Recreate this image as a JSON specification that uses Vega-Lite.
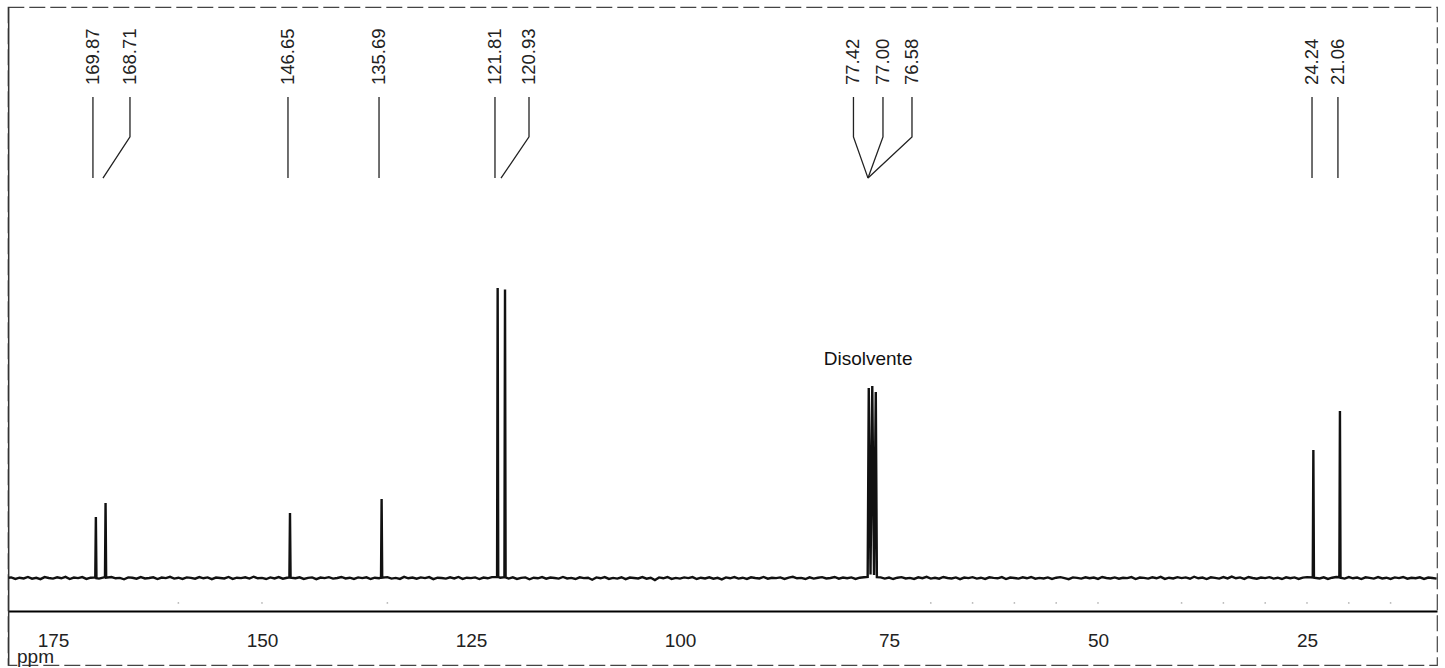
{
  "$schema": "https://vega.github.io/schema/vega-lite/v6.json",
  "width": 1429,
  "height": 658,
  "autosize": {"type": "none"},
  "padding": {"left": 8, "top": 7, "right": 8, "bottom": 3},
  "background": "white",
  "config": {
    "view": {"stroke": "#444", "strokeWidth": 1.2, "strokeDash": [16, 5]},
    "font": "Liberation Sans"
  },
  "datasets": {
    "spec": [
      {"ppm":180.3,"i":0.1},{"ppm":180,"i":0.2},{"ppm":179.5,"i":-0.3},{"ppm":179,"i":0.1},{"ppm":178.5,"i":-0.15},{"ppm":178,"i":0.35},{"ppm":177.5,"i":-0.25},{"ppm":177,"i":0.05},{"ppm":176.5,"i":-0.4},{"ppm":176,"i":0.3},{"ppm":175.5,"i":0},{"ppm":175,"i":-0.2},{"ppm":174.5,"i":0.25},{"ppm":174,"i":-0.1},{"ppm":173.5,"i":0.4},{"ppm":173,"i":-0.35},{"ppm":172.5,"i":0.15},{"ppm":172,"i":-0.05},{"ppm":171.5,"i":0.3},{"ppm":171,"i":-0.3},{"ppm":170.5,"i":0.1},
      {"ppm":169.94,"i":0.2},{"ppm":169.87,"i":21.0},{"ppm":169.8,"i":-0.1},
      {"ppm":169.5,"i":-0.2},
      {"ppm":168.78,"i":0.3},{"ppm":168.71,"i":25.9},{"ppm":168.64,"i":0.1},
      {"ppm":168,"i":0.35},{"ppm":167.5,"i":-0.1},{"ppm":167,"i":0.05},{"ppm":166.5,"i":-0.45},{"ppm":166,"i":0.2},{"ppm":165.5,"i":0.1},{"ppm":165,"i":-0.25},{"ppm":164.5,"i":0.3},{"ppm":164,"i":-0.15},{"ppm":163.5,"i":0},{"ppm":163,"i":0.25},{"ppm":162.5,"i":-0.35},{"ppm":162,"i":0.15},{"ppm":161.5,"i":-0.05},{"ppm":161,"i":0.4},{"ppm":160.5,"i":-0.2},{"ppm":160,"i":0.1},{"ppm":159.5,"i":-0.3},{"ppm":159,"i":0.2},{"ppm":158.5,"i":0.05},{"ppm":158,"i":-0.25},{"ppm":157.5,"i":0.3},{"ppm":157,"i":-0.1},{"ppm":156.5,"i":0.2},{"ppm":156,"i":-0.4},{"ppm":155.5,"i":0.15},{"ppm":155,"i":0},{"ppm":154.5,"i":-0.15},{"ppm":154,"i":0.35},{"ppm":153.5,"i":-0.3},{"ppm":153,"i":0.1},{"ppm":152.5,"i":-0.05},{"ppm":152,"i":0.25},{"ppm":151.5,"i":-0.2},{"ppm":151,"i":0.45},{"ppm":150.5,"i":-0.1},{"ppm":150,"i":0.05},{"ppm":149.5,"i":-0.35},{"ppm":149,"i":0.2},{"ppm":148.5,"i":-0.15},{"ppm":148,"i":0.3},{"ppm":147.5,"i":-0.25},{"ppm":147,"i":0.1},
      {"ppm":146.72,"i":0.2},{"ppm":146.65,"i":22.4},{"ppm":146.58,"i":0.1},
      {"ppm":146,"i":-0.1},{"ppm":145.5,"i":0.25},{"ppm":145,"i":-0.3},{"ppm":144.5,"i":0.05},{"ppm":144,"i":0.2},{"ppm":143.5,"i":-0.4},{"ppm":143,"i":0.15},{"ppm":142.5,"i":-0.05},{"ppm":142,"i":0.3},{"ppm":141.5,"i":-0.2},{"ppm":141,"i":0},{"ppm":140.5,"i":0.35},{"ppm":140,"i":-0.15},{"ppm":139.5,"i":0.1},{"ppm":139,"i":-0.3},{"ppm":138.5,"i":0.2},{"ppm":138,"i":-0.05},{"ppm":137.5,"i":0.25},{"ppm":137,"i":-0.35},{"ppm":136.5,"i":0.1},{"ppm":136,"i":-0.1},
      {"ppm":135.76,"i":0.2},{"ppm":135.69,"i":27.2},{"ppm":135.62,"i":0.1},
      {"ppm":135,"i":0.3},{"ppm":134.5,"i":-0.2},{"ppm":134,"i":0.05},{"ppm":133.5,"i":-0.3},{"ppm":133,"i":0.4},{"ppm":132.5,"i":-0.1},{"ppm":132,"i":0.15},{"ppm":131.5,"i":-0.25},{"ppm":131,"i":0.2},{"ppm":130.5,"i":-0.05},{"ppm":130,"i":0.3},{"ppm":129.5,"i":-0.4},{"ppm":129,"i":0.1},{"ppm":128.5,"i":0},{"ppm":128,"i":-0.2},{"ppm":127.5,"i":0.25},{"ppm":127,"i":-0.15},{"ppm":126.5,"i":0.35},{"ppm":126,"i":-0.3},{"ppm":125.5,"i":0.1},{"ppm":125,"i":-0.05},{"ppm":124.5,"i":0.2},{"ppm":124,"i":-0.35},{"ppm":123.5,"i":0.15},{"ppm":123,"i":-0.1},{"ppm":122.5,"i":0.3},
      {"ppm":121.88,"i":0.3},{"ppm":121.81,"i":100},{"ppm":121.74,"i":0.4},
      {"ppm":121.5,"i":0.1},
      {"ppm":121.0,"i":0.3},{"ppm":120.93,"i":99.5},{"ppm":120.86,"i":0.2},
      {"ppm":120.5,"i":-0.2},{"ppm":120,"i":0.25},{"ppm":119.5,"i":-0.3},{"ppm":119,"i":0.05},{"ppm":118.5,"i":0.2},{"ppm":118,"i":-0.45},{"ppm":117.5,"i":0.1},{"ppm":117,"i":-0.1},{"ppm":116.5,"i":0.3},{"ppm":116,"i":-0.25},{"ppm":115.5,"i":0.15},{"ppm":115,"i":0},{"ppm":114.5,"i":-0.2},{"ppm":114,"i":0.35},{"ppm":113.5,"i":-0.15},{"ppm":113,"i":0.05},{"ppm":112.5,"i":-0.35},{"ppm":112,"i":0.25},{"ppm":111.5,"i":-0.05},{"ppm":111,"i":0.1},{"ppm":110.5,"i":-0.6},{"ppm":110,"i":0.2},{"ppm":109.5,"i":-0.1},{"ppm":109,"i":0.3},{"ppm":108.5,"i":-0.3},{"ppm":108,"i":0.05},{"ppm":107.5,"i":-0.2},{"ppm":107,"i":0.25},{"ppm":106.5,"i":-0.4},{"ppm":106,"i":0.15},{"ppm":105.5,"i":0},{"ppm":105,"i":-0.15},{"ppm":104.5,"i":0.3},{"ppm":104,"i":-0.25},{"ppm":103.5,"i":0.1},{"ppm":103,"i":-0.7},{"ppm":102.5,"i":0.2},{"ppm":102,"i":-0.1},{"ppm":101.5,"i":0.35},{"ppm":101,"i":-0.3},{"ppm":100.5,"i":0.05},{"ppm":100,"i":-0.2},{"ppm":99.5,"i":0.2},{"ppm":99,"i":-0.05},{"ppm":98.5,"i":0.3},{"ppm":98,"i":-0.35},{"ppm":97.5,"i":0.1},{"ppm":97,"i":-0.15},{"ppm":96.5,"i":0.25},{"ppm":96,"i":-0.25},{"ppm":95.5,"i":0.05},{"ppm":95,"i":-0.5},{"ppm":94.5,"i":0.2},{"ppm":94,"i":-0.1},{"ppm":93.5,"i":0.3},{"ppm":93,"i":-0.2},{"ppm":92.5,"i":0.1},{"ppm":92,"i":-0.3},{"ppm":91.5,"i":0.25},{"ppm":91,"i":0},{"ppm":90.5,"i":-0.15},{"ppm":90,"i":0.35},{"ppm":89.5,"i":-0.25},{"ppm":89,"i":0.1},{"ppm":88.5,"i":-0.05},{"ppm":88,"i":0.2},{"ppm":87.5,"i":-0.3},{"ppm":87,"i":0.15},{"ppm":86.5,"i":0.4},{"ppm":86,"i":-0.1},{"ppm":85.5,"i":0.05},{"ppm":85,"i":-0.35},{"ppm":84.5,"i":0.25},{"ppm":84,"i":-0.2},{"ppm":83.5,"i":0.1},{"ppm":83,"i":0.3},{"ppm":82.5,"i":-0.15},{"ppm":82,"i":0},{"ppm":81.5,"i":0.35},{"ppm":81,"i":-0.25},{"ppm":80.5,"i":0.15},{"ppm":80,"i":-0.1},{"ppm":79.5,"i":0.2},{"ppm":79,"i":-0.3},{"ppm":78.5,"i":0.1},{"ppm":78,"i":0.25},
      {"ppm":77.55,"i":0.4},{"ppm":77.42,"i":65.5},{"ppm":77.21,"i":1.2},{"ppm":77.0,"i":66.2},{"ppm":76.79,"i":1.0},{"ppm":76.58,"i":64.1},{"ppm":76.45,"i":0.3},
      {"ppm":76,"i":0.2},{"ppm":75.5,"i":-0.2},{"ppm":75,"i":0.15},{"ppm":74.5,"i":-0.35},{"ppm":74,"i":0.1},{"ppm":73.5,"i":0.3},{"ppm":73,"i":-0.15},{"ppm":72.5,"i":0.05},{"ppm":72,"i":-0.3},{"ppm":71.5,"i":0.25},{"ppm":71,"i":-0.05},{"ppm":70.5,"i":0.4},{"ppm":70,"i":-0.2},{"ppm":69.5,"i":0.1},{"ppm":69,"i":-0.25},{"ppm":68.5,"i":0.35},{"ppm":68,"i":0},{"ppm":67.5,"i":-0.15},{"ppm":67,"i":0.2},{"ppm":66.5,"i":-0.4},{"ppm":66,"i":0.15},{"ppm":65.5,"i":-0.05},{"ppm":65,"i":0.3},{"ppm":64.5,"i":-0.2},{"ppm":64,"i":0.1},{"ppm":63.5,"i":-0.3},{"ppm":63,"i":0.25},{"ppm":62.5,"i":0.05},{"ppm":62,"i":-0.1},{"ppm":61.5,"i":0.3},{"ppm":61,"i":-0.35},{"ppm":60.5,"i":0.15},{"ppm":60,"i":0},{"ppm":59.5,"i":-0.2},{"ppm":59,"i":0.25},{"ppm":58.5,"i":-0.1},{"ppm":58,"i":0.35},{"ppm":57.5,"i":-0.25},{"ppm":57,"i":0.05},{"ppm":56.5,"i":-0.15},{"ppm":56,"i":0.2},{"ppm":55.5,"i":-0.3},{"ppm":55,"i":0.1},{"ppm":54.5,"i":0.3},{"ppm":54,"i":-0.05},{"ppm":53.5,"i":-0.4},{"ppm":53,"i":0.2},{"ppm":52.5,"i":0.05},{"ppm":52,"i":-0.2},{"ppm":51.5,"i":0.25},{"ppm":51,"i":-0.1},{"ppm":50.5,"i":0.15},{"ppm":50,"i":-0.3},{"ppm":49.5,"i":0.35},{"ppm":49,"i":0},{"ppm":48.5,"i":-0.15},{"ppm":48,"i":0.2},{"ppm":47.5,"i":-0.25},{"ppm":47,"i":0.1},{"ppm":46.5,"i":-0.05},{"ppm":46,"i":0.3},{"ppm":45.5,"i":-0.35},{"ppm":45,"i":0.15},{"ppm":44.5,"i":0.05},{"ppm":44,"i":-0.2},{"ppm":43.5,"i":0.25},{"ppm":43,"i":-0.1},{"ppm":42.5,"i":0.4},{"ppm":42,"i":-0.3},{"ppm":41.5,"i":0.1},{"ppm":41,"i":-0.15},{"ppm":40.5,"i":0.3},{"ppm":40,"i":-0.05},{"ppm":39.5,"i":0.2},{"ppm":39,"i":-0.25},{"ppm":38.5,"i":0.45},{"ppm":38,"i":-0.1},{"ppm":37.5,"i":0.15},{"ppm":37,"i":-0.35},{"ppm":36.5,"i":0.25},{"ppm":36,"i":0.05},{"ppm":35.5,"i":-0.2},{"ppm":35,"i":0.3},{"ppm":34.5,"i":-0.15},{"ppm":34,"i":0.5},{"ppm":33.5,"i":-0.1},{"ppm":33,"i":0.2},{"ppm":32.5,"i":-0.3},{"ppm":32,"i":0.35},{"ppm":31.5,"i":0},{"ppm":31,"i":-0.25},{"ppm":30.5,"i":0.15},{"ppm":30,"i":-0.05},{"ppm":29.5,"i":0.3},{"ppm":29,"i":-0.2},{"ppm":28.5,"i":0.1},{"ppm":28,"i":-0.35},{"ppm":27.5,"i":0.25},{"ppm":27,"i":-0.1},{"ppm":26.5,"i":0.2},{"ppm":26,"i":-0.3},{"ppm":25.5,"i":0.15},{"ppm":25,"i":0.3},
      {"ppm":24.31,"i":0.2},{"ppm":24.24,"i":44.1},{"ppm":24.17,"i":0.1},
      {"ppm":23.5,"i":-0.15},{"ppm":23,"i":0.25},{"ppm":22.5,"i":-0.3},{"ppm":22,"i":0.1},{"ppm":21.5,"i":0.35},
      {"ppm":21.13,"i":0.3},{"ppm":21.06,"i":57.6},{"ppm":20.99,"i":0.1},
      {"ppm":20.5,"i":-0.2},{"ppm":20,"i":0.3},{"ppm":19.5,"i":-0.1},{"ppm":19,"i":0.15},{"ppm":18.5,"i":-0.35},{"ppm":18,"i":0.25},{"ppm":17.5,"i":0.05},{"ppm":17,"i":-0.2},{"ppm":16.5,"i":0.3},{"ppm":16,"i":-0.15},{"ppm":15.5,"i":0.1},{"ppm":15,"i":-0.3},{"ppm":14.5,"i":0.2},{"ppm":14,"i":-0.05},{"ppm":13.5,"i":0.35},{"ppm":13,"i":-0.25},{"ppm":12.5,"i":0.1},{"ppm":12,"i":-0.1},{"ppm":11.5,"i":0.25},{"ppm":11,"i":-0.3},{"ppm":10.5,"i":0.15},{"ppm":10,"i":0},{"ppm":9.5,"i":-0.2}
    ],
    "leaders": [
      {"g":1,"o":1,"ppm":170.22,"i":165.9},{"g":1,"o":2,"ppm":170.22,"i":137.9},
      {"g":2,"o":1,"ppm":165.79,"i":165.9},{"g":2,"o":2,"ppm":165.79,"i":152.1},{"g":2,"o":3,"ppm":169.02,"i":137.9},
      {"g":3,"o":1,"ppm":146.89,"i":165.9},{"g":3,"o":2,"ppm":146.89,"i":137.9},
      {"g":4,"o":1,"ppm":136.0,"i":165.9},{"g":4,"o":2,"ppm":136.0,"i":137.9},
      {"g":5,"o":1,"ppm":122.13,"i":165.9},{"g":5,"o":2,"ppm":122.13,"i":137.9},
      {"g":6,"o":1,"ppm":118.06,"i":165.9},{"g":6,"o":2,"ppm":118.06,"i":152.1},{"g":6,"o":3,"ppm":121.41,"i":137.9},
      {"g":7,"o":1,"ppm":79.25,"i":165.9},{"g":7,"o":2,"ppm":79.25,"i":152.1},{"g":7,"o":3,"ppm":77.51,"i":137.9},
      {"g":8,"o":1,"ppm":75.72,"i":165.9},{"g":8,"o":2,"ppm":75.72,"i":152.1},{"g":8,"o":3,"ppm":77.51,"i":137.9},
      {"g":9,"o":1,"ppm":72.25,"i":165.9},{"g":9,"o":2,"ppm":72.25,"i":152.1},{"g":9,"o":3,"ppm":77.51,"i":137.9},
      {"g":10,"o":1,"ppm":24.4,"i":165.9},{"g":10,"o":2,"ppm":24.4,"i":137.9},
      {"g":11,"o":1,"ppm":21.3,"i":165.9},{"g":11,"o":2,"ppm":21.3,"i":137.9}
    ],
    "labels": [
      {"t":"169.87","ppm":170.22,"i":170},
      {"t":"168.71","ppm":165.79,"i":170},
      {"t":"146.65","ppm":146.89,"i":170},
      {"t":"135.69","ppm":136.0,"i":170},
      {"t":"121.81","ppm":122.13,"i":170},
      {"t":"120.93","ppm":118.06,"i":170},
      {"t":"77.42","ppm":79.25,"i":170},
      {"t":"77.00","ppm":75.72,"i":170},
      {"t":"76.58","ppm":72.25,"i":170},
      {"t":"24.24","ppm":24.4,"i":170},
      {"t":"21.06","ppm":21.3,"i":170}
    ],
    "solv": [{"t":"Disolvente","ppm":77.5,"i":73.4}],
    "unit": [{"t":"ppm","ppm":179.3,"i":-29.3}],
    "edge": [{"ppm":180.3,"i":-30,"i2":196.9}],
    "dots": [
      {"ppm":160,"i":-8.6},{"ppm":150,"i":-8.6},{"ppm":135,"i":-8.6},{"ppm":70,"i":-8.6},{"ppm":65,"i":-8.6},{"ppm":60,"i":-8.6},{"ppm":55,"i":-8.6},{"ppm":50,"i":-8.6},{"ppm":40,"i":-8.6},{"ppm":35,"i":-8.6},{"ppm":30,"i":-8.6},{"ppm":25,"i":-8.6},{"ppm":20,"i":-8.6},{"ppm":15,"i":-8.6}
    ]
  },
  "encoding": {
    "x": {
      "field": "ppm",
      "type": "quantitative",
      "scale": {"domain": [9.45, 180.38], "reverse": true, "nice": false, "zero": false},
      "axis": {
        "orient": "bottom",
        "offset": -54,
        "values": [175, 150, 125, 100, 75, 50, 25],
        "ticks": false,
        "tickSize": 0,
        "grid": false,
        "title": null,
        "domainColor": "#000",
        "domainWidth": 2,
        "labelFont": "Liberation Sans",
        "labelFontSize": 19,
        "labelColor": "#222",
        "labelPadding": 35,
        "labelBaseline": "alphabetic",
        "labelFlush": false,
        "labelOverlap": false
      }
    },
    "y": {
      "field": "i",
      "type": "quantitative",
      "scale": {"domain": [-30, 196.9], "nice": false, "zero": false},
      "axis": null
    }
  },
  "layer": [
    {"data": {"name": "edge"}, "mark": {"type": "rule", "color": "#333", "strokeWidth": 1.5},
     "encoding": {"y2": {"field": "i2"}}},
    {"data": {"name": "dots"}, "mark": {"type": "point", "filled": true, "size": 3, "color": "#999", "opacity": 0.7}},
    {"data": {"name": "spec"}, "mark": {"type": "line", "color": "#111", "strokeWidth": 2.4, "strokeJoin": "miter"}},
    {"data": {"name": "leaders"}, "mark": {"type": "line", "color": "#222", "strokeWidth": 1.3},
     "encoding": {"detail": {"field": "g", "type": "nominal"}, "order": {"field": "o", "type": "quantitative"}}},
    {"data": {"name": "labels"}, "mark": {"type": "text", "angle": 270, "align": "left", "baseline": "middle", "fontSize": 18.5, "font": "Liberation Sans", "color": "#222"},
     "encoding": {"text": {"field": "t", "type": "nominal"}}},
    {"data": {"name": "solv"}, "mark": {"type": "text", "align": "center", "baseline": "alphabetic", "fontSize": 19, "font": "Liberation Sans", "color": "#111"},
     "encoding": {"text": {"field": "t", "type": "nominal"}}},
    {"data": {"name": "unit"}, "mark": {"type": "text", "align": "left", "baseline": "alphabetic", "fontSize": 19, "font": "Liberation Sans", "color": "#222"},
     "encoding": {"text": {"field": "t", "type": "nominal"}}}
  ]
}
